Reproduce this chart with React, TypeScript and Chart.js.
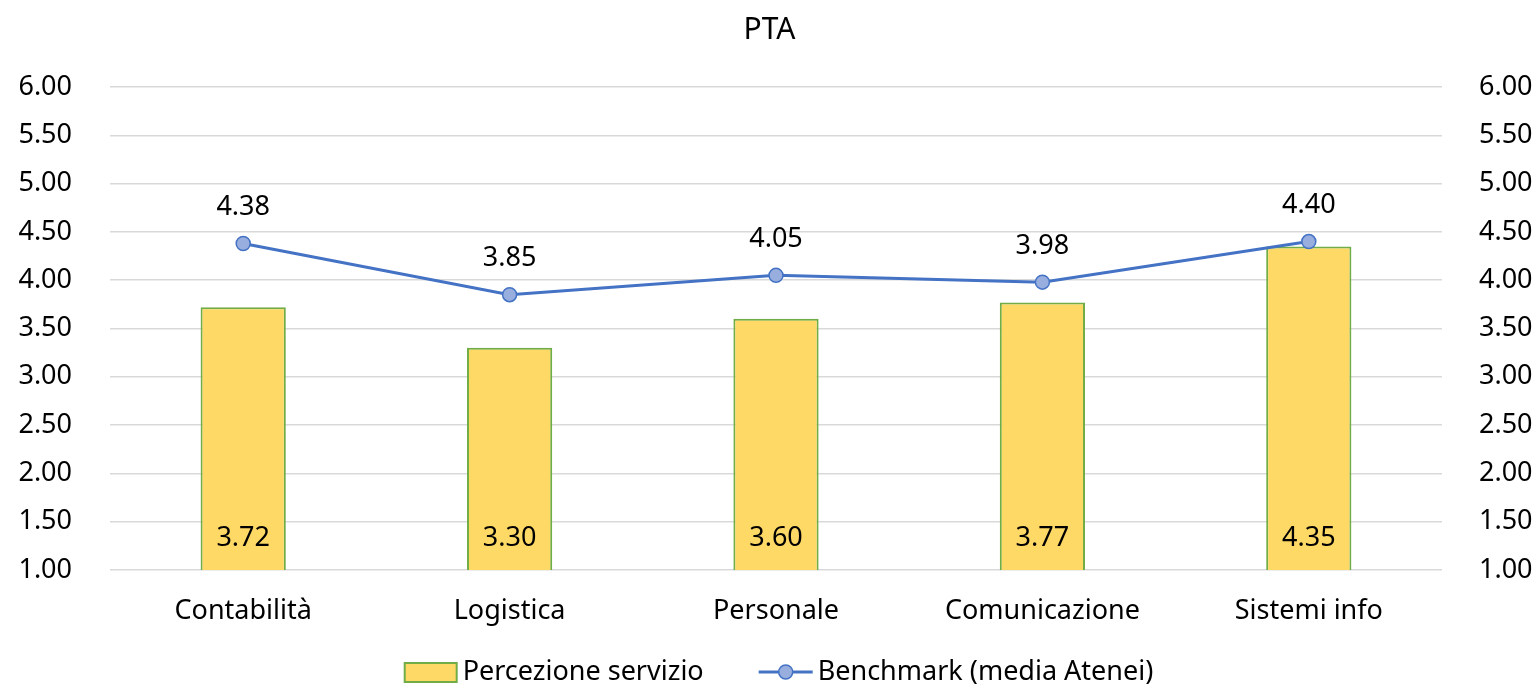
import React, { useEffect, useRef } from "react";
import { Chart, registerables } from "chart.js";

Chart.register(...registerables);

const titleText = "PTA";
const categories = ["Contabilità", "Logistica", "Personale", "Comunicazione", "Sistemi info"];
const percezione = [3.72, 3.3, 3.6, 3.77, 4.35];
const benchmark = [4.38, 3.85, 4.05, 3.98, 4.4];
const seriesNames = ["Percezione servizio", "Benchmark (media Atenei)"];
const yMin = 1;
const yMax = 6;
const yStep = 0.5;

const FONT = "'Noto Sans', 'DejaVu Sans', sans-serif";
const BAR_FILL = "#FFD966";
const BAR_BORDER = "#70AD47";
const LINE_COLOR = "#4472C4";
const POINT_FILL = "#97AEDF";

const dataLabelPlugin = {
  id: "dataLabels",
  afterDatasetsDraw(chart: any) {
    const ctx = chart.ctx;
    ctx.save();
    ctx.font = `27px ${FONT}`;
    ctx.fillStyle = "#000";
    ctx.textAlign = "center";
    ctx.textBaseline = "middle";
    chart.data.datasets.forEach((ds: any, i: number) => {
      const meta = chart.getDatasetMeta(i);
      meta.data.forEach((el: any, j: number) => {
        const v = ds.data[j];
        const txt = Number(v).toFixed(2);
        if (ds.type === "line") {
          ctx.fillText(txt, el.x, el.y - 36);
        } else {
          ctx.fillText(txt, el.x, chart.chartArea.bottom - 32);
        }
      });
    });
    ctx.restore();
  },
};

const legendPlugin = {
  id: "customLegend",
  afterDraw(chart: any) {
    const ctx = chart.ctx;
    ctx.save();
    ctx.font = `27px ${FONT}`;
    ctx.textBaseline = "middle";
    ctx.textAlign = "left";
    const y = 672;
    const ds = chart.data.datasets;
    const t1 = ds[0].label;
    const t2 = ds[1].label;
    const w1 = ctx.measureText(t1).width;
    const w2 = ctx.measureText(t2).width;
    const sw = 52, g1 = 6, gap = 55, lw = 54, g2 = 5;
    const total = sw + g1 + w1 + gap + lw + g2 + w2;
    const ca = chart.chartArea;
    let x = (ca.left + ca.right) / 2 + 3 - total / 2;
    ctx.fillStyle = BAR_FILL;
    ctx.strokeStyle = BAR_BORDER;
    ctx.lineWidth = 2;
    ctx.fillRect(x, y - 9, sw, 19);
    ctx.strokeRect(x, y - 9, sw, 19);
    x += sw + g1;
    ctx.fillStyle = "#000";
    ctx.fillText(t1, x, y);
    x += w1 + gap;
    ctx.strokeStyle = LINE_COLOR;
    ctx.lineWidth = 3;
    ctx.beginPath();
    ctx.moveTo(x, y);
    ctx.lineTo(x + lw, y);
    ctx.stroke();
    ctx.beginPath();
    ctx.arc(x + lw / 2, y, 7, 0, Math.PI * 2);
    ctx.fillStyle = POINT_FILL;
    ctx.fill();
    ctx.lineWidth = 1.5;
    ctx.stroke();
    x += lw + g2;
    ctx.fillStyle = "#000";
    ctx.fillText(t2, x, y);
    ctx.restore();
  },
};

export default function App() {
  const ref = useRef<HTMLCanvasElement | null>(null);
  useEffect(() => {
    document.body.style.margin = "0";
    if (!ref.current) return;
    const tickFont = { family: FONT, size: 27 };
    const chart = new Chart(ref.current, {
      type: "bar",
      data: {
        labels: categories,
        datasets: [
          {
            type: "bar",
            label: seriesNames[0],
            data: percezione,
            backgroundColor: BAR_FILL,
            borderColor: BAR_BORDER,
            borderWidth: 2,
            categoryPercentage: 1,
            barPercentage: 0.32,
            yAxisID: "y",
            order: 2,
          } as any,
          {
            type: "line",
            label: seriesNames[1],
            data: benchmark,
            borderColor: LINE_COLOR,
            borderWidth: 3,
            pointRadius: 7,
            pointBackgroundColor: POINT_FILL,
            pointBorderColor: LINE_COLOR,
            pointBorderWidth: 1.5,
            tension: 0,
            yAxisID: "y",
            order: 1,
          } as any,
        ],
      },
      plugins: [dataLabelPlugin, legendPlugin],
      options: {
        responsive: false,
        animation: false,
        layout: { padding: 0 },
        plugins: {
          legend: { display: false },
          tooltip: { enabled: false },
          title: {
            display: true,
            text: titleText,
            color: "#000",
            font: { family: FONT, size: 30, weight: "normal" },
            padding: { top: 12, bottom: 39 },
          },
        },
        scales: {
          x: {
            grid: { display: false, drawTicks: false },
            border: { display: false },
            ticks: { font: tickFont, color: "#000", padding: 25, maxRotation: 0 },
            afterFit: (s: any) => {
              s.height = 116;
            },
          },
          y: {
            position: "left",
            min: yMin,
            max: yMax,
            grid: { color: "#D9D9D9", lineWidth: 1.5, drawTicks: false },
            border: { display: false },
            ticks: {
              stepSize: yStep,
              font: tickFont,
              color: "#000",
              padding: 38,
              callback: (v: any) => Number(v).toFixed(2),
            },
            afterFit: (s: any) => {
              s.width = 110;
            },
          },
          y2: {
            position: "right",
            min: yMin,
            max: yMax,
            grid: { display: false, drawTicks: false },
            border: { display: false },
            ticks: {
              stepSize: yStep,
              font: tickFont,
              color: "#000",
              padding: 37,
              callback: (v: any) => Number(v).toFixed(2),
            },
            afterFit: (s: any) => {
              s.width = 97;
            },
          },
        },
      } as any,
    });
    return () => chart.destroy();
  }, []);
  return (
    <div style={{ width: 1539, height: 686 }}>
      <canvas ref={ref} width={1539} height={686} style={{ display: "block" }} />
    </div>
  );
}
